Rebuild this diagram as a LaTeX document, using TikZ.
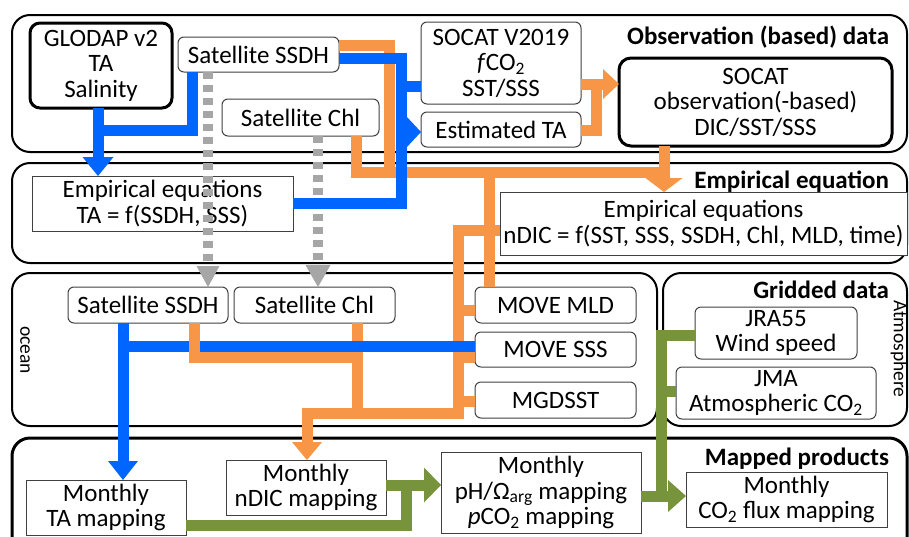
\documentclass[tikz,border=0pt]{standalone}
\usepackage{fontspec}
\setmainfont{Carlito}
\usetikzlibrary{arrows.meta}
\definecolor{flowblue}{HTML}{0066FF}
\definecolor{floworange}{HTML}{F79646}
\definecolor{flowgreen}{HTML}{77933C}
\definecolor{flowgray}{HTML}{A6A6A6}
\definecolor{boxline}{HTML}{404040}
\begin{document}
\begin{tikzpicture}[x=1pt,y=-1pt,
  every node/.style={font=\fontsize{25}{25.5}\selectfont, inner sep=0pt, outer sep=0pt, align=center},
  span/.style n args={4}{minimum width={#3-#1}, minimum height={#4-#2}, at={({(#1+#3)/2},{(#2+#4)/2})}},
  panel/.style={draw=black, line width=2pt, rounded corners=18pt},
  dbox/.style={draw=boxline, line width=1pt, rounded corners=6pt, fill=white},
  tbox/.style={draw=black, line width=3pt, rounded corners=12pt, fill=white},
  rbox/.style={draw=boxline, line width=1pt, fill=white},
  title/.style={font=\fontsize{25}{25.5}\selectfont\bfseries, anchor=base east},
  side/.style={font=\fontsize{19.5}{20}\selectfont, rotate=-90},
  bflow/.style={draw=flowblue, line width=11pt, line join=miter},
  oflow/.style={draw=floworange, line width=11pt, line join=miter},
  gflow/.style={draw=flowgreen, line width=11pt, line join=miter},
  gdash/.style={draw=flowgray, line width=10pt, dash pattern=on 7pt off 6pt},
  tip/.style 2 args={-{Triangle[width=#1pt,length=#2pt,line width=0pt]}}
]
\useasboundingbox (0,0) rectangle (909,536);

% section panels
\draw[panel] (12,15) rectangle (907,152);
\draw[panel] (12,163) rectangle (907,263);
\draw[panel] (12,273) rectangle (657,426);
\draw[panel] (663,273) rectangle (907,426);
\draw[panel, line width=3pt] (12,438) rectangle (907,570);

% section titles and side labels
\node[title] (t1) at (889,44) {Observation (based) data};
\node[title] (t2) at (889,188) {Empirical equation};
\node[title] (t3) at (889,298) {Gridded data};
\node[title] (t4) at (889,465) {Mapped products};
\node[side] (oceanlbl) at (25,350) {ocean};
\node[side] (atmlbl) at (899,349) {Atmosphere};

% observation data
\node[tbox, rounded corners=10pt, span={30}{23}{172}{108}] (glodap) {GLODAP v2\\TA\\Salinity};
\node[dbox, span={178}{37}{339}{72}] (ssdh1) {Satellite SSDH};
\node[dbox, span={222}{99}{379}{136}] (chl1) {Satellite Chl};
\node[dbox, span={421}{22}{581}{104}] (socat19) {SOCAT V2019\\\textit{f}CO\textsubscript{2}\\SST/SSS};
\node[dbox, span={421}{112}{581}{147}] (esta) {Estimated TA};
\node[tbox, span={619}{58}{892}{146}] (socatobs) {SOCAT\\observation(-based)\\DIC/SST/SSS};

% empirical equations
\node[rbox, span={32}{176}{293}{231}] (empta) {Empirical equations\\TA = f(SSDH, SSS)};
\node[rbox, span={500}{192}{907}{255}] (empndic) {Empirical equations\\nDIC = f(SST, SSS, SSDH, Chl, MLD, time)};

% gridded data
\node[dbox, span={68}{287}{228}{323}] (ssdh2) {Satellite SSDH};
\node[dbox, span={234}{287}{395}{323}] (chl2) {Satellite Chl};
\node[dbox, span={475}{287}{636}{323}] (mld) {MOVE MLD};
\node[dbox, span={475}{332}{636}{367}] (sss) {MOVE SSS};
\node[dbox, span={475}{382}{636}{418}] (mgd) {MGDSST};
\node[dbox, span={695}{307}{857}{359}] (jra) {JRA55\\Wind speed};
\node[dbox, span={676}{367}{876}{419}] (jma) {JMA\\Atmospheric CO\textsubscript{2}};

% mapped products
\node[rbox, span={26}{480}{186}{535}] (tamap) {Monthly\\TA mapping};
\node[rbox, span={226}{460}{386}{515}] (ndicmap) {Monthly\\nDIC mapping};
\node[rbox, span={441}{452}{641}{533}] (ph) {Monthly\\pH/Ω\textsubscript{arg} mapping\\\textit{p}CO\textsubscript{2} mapping};
\node[rbox, span={686}{472}{887}{527}] (flux) {Monthly\\CO\textsubscript{2} flux mapping};

% junction points
\coordinate (oA) at (389,45);
\coordinate (oB) at (389,172);
\coordinate (oC) at (356,172);
\coordinate (oD) at (664,172);
\coordinate (oE) at (489,172);
\coordinate (oF) at (458,230);
\coordinate (oG) at (458,413);
\coordinate (oH) at (307,413);
\coordinate (oI) at (357,413);
\coordinate (oJ) at (194,357);
\coordinate (oK) at (357,357);
\coordinate (oL) at (596,130);
\coordinate (oM) at (596,84);
\coordinate (bA) at (192,130);
\coordinate (bB) at (98,130);
\coordinate (bC) at (401,58);
\coordinate (bD) at (401,203);
\coordinate (bE) at (401,86);
\coordinate (bF) at (401,132);
\coordinate (bG) at (123,346);
\coordinate (gA) at (406,525);
\coordinate (gB) at (406,485);
\coordinate (gC) at (661,335);
\coordinate (gD) at (661,496);
\coordinate (gE) at (661,391);

% satellite data carried over to the gridded section
\draw[gdash, tip={23}{21}] (208,0 |- ssdh1.south) -- (208,0 |- ssdh2.north);
\draw[gdash, tip={25}{22}] (318,0 |- chl1.south) -- (318,0 |- chl2.north);

% DIC flow (orange)
\draw[oflow] (ssdh1.east |- oA) -- (oA) -- (oB);
\draw[oflow] (356,0 |- chl1.south) -- (oC) -- (oD);
\draw[oflow, tip={37}{14}] (664,0 |- socatobs.south) -- (664,0 |- empndic.north);
\draw[oflow] (oE) -- (489,0 |- mld.north);
\draw[oflow, tip={30}{16}] (socat19.east |- oM) -- (socatobs.west |- oM);
\draw[oflow] (esta.east |- oL) -- (oL) -- (oM);
\draw[oflow, tip={30}{18}] (empndic.west |- oF) -- (oF) -- (oG) -- (oH) -- (307,0 |- ndicmap.north);
\draw[oflow] (458,310) -- (mld.west |- 0,310);
\draw[oflow] (458,357) -- (sss.west |- 0,357);
\draw[oflow] (458,401) -- (mgd.west |- 0,401);
\draw[oflow] (357,0 |- chl2.south) -- (oI);

% TA flow (blue)
\draw[bflow, tip={31}{19}] (98,0 |- glodap.south) -- (98,0 |- empta.north);
\draw[bflow] (192,0 |- ssdh1.south) -- (bA) -- (bB);
\draw[bflow] (ssdh1.east |- bC) -- (bC) -- (bD) -- (empta.east |- bD);
\draw[bflow] (bE) -- (socat19.west |- bE);
\draw[bflow, tip={32}{15}] (bF) -- (esta.west |- bF);
\draw[bflow, tip={30}{19}] (123,0 |- ssdh2.south) -- (123,0 |- tamap.north);
\draw[bflow] (bG) -- (sss.west |- bG);

\draw[oflow] (194,0 |- ssdh2.south) -- (oJ) -- (oK);

% carbonate system and flux (green)
\draw[gflow] (tamap.east |- gA) -- (gA) -- (gB);
\draw[gflow, tip={35}{17}] (ndicmap.east |- gB) -- (ph.west |- gB);
\draw[gflow] (jra.west |- gC) -- (gC) -- (gD);
\draw[gflow] (gE) -- (jma.west |- gE);
\draw[gflow, tip={32}{18}] (ph.east |- gD) -- (flux.west |- gD);
\end{tikzpicture}
\end{document}
